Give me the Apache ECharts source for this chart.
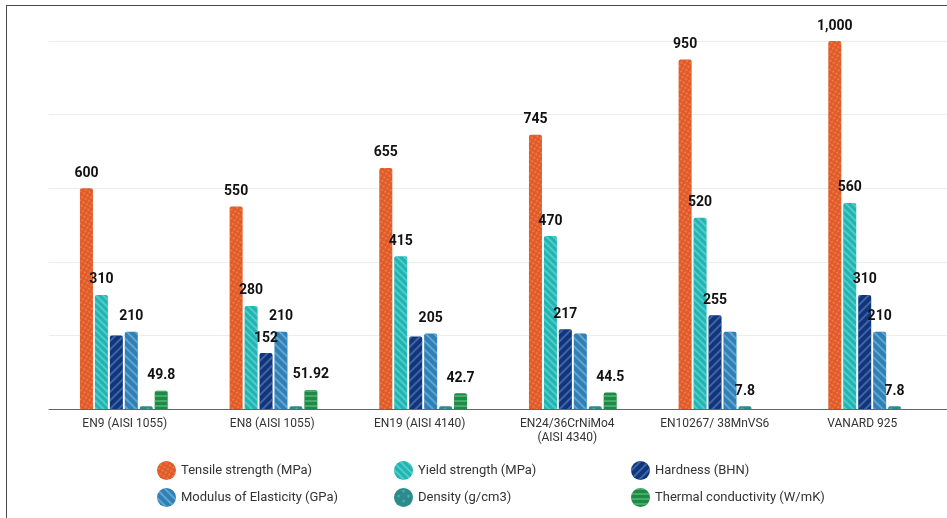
<!DOCTYPE html>
<html>
<head>
<meta charset="utf-8">
<script src="https://cdn.jsdelivr.net/npm/echarts@6/dist/echarts.min.js"></script>
<style>
  html, body { margin: 0; padding: 0; background: #fff; }
  #chart { position: absolute; left: 0; top: 0; width: 947px; height: 518px; }
  #frame { position: absolute; left: 6px; top: 5px; width: 960px; height: 530px;
           border-left: 1.5px solid #4a4a4a; border-top: 1.5px solid #4a4a4a; pointer-events: none; }
</style>
</head>
<body>
<div id="chart"></div>
<div id="frame"></div>
<script>
const categories = [
  "EN9 (AISI 1055)",
  "EN8 (AISI 1055)",
  "EN19 (AISI 4140)",
  "EN24/36CrNiMo4\n(AISI 4340)",
  "EN10267/ 38MnVS6",
  "VANARD 925",
]

const tensile = [600, 550, 655, 745, 950, 1000]
const yieldStrength = [310, 280, 415, 470, 520, 560]
const hardness = [200, 152, 197, 217, 255, 310]
const modulus = [210, 210, 205, 205, 210, 210]
const density = [7.8, 7.8, 7.8, 7.8, 7.8, 7.8]
const thermal = [49.8, 51.92, 42.7, 44.5, null, null]

// which values carry a printed label in the original
const tensileLabels = [true, true, true, true, true, true]
const yieldLabels = [true, true, true, true, true, true]
const hardnessLabels = [false, true, false, true, true, true]
const modulusLabels = [true, true, true, false, false, true]
const densityLabels = [false, false, false, false, true, true]
const thermalLabels = [true, true, true, true, true, true]

const yTicks = [0, 200, 400, 600, 800, 1000]

const seriesDefs = [
  {
    name: "Tensile strength (MPa)", data: tensile, labels: tensileLabels, color: "#e05a28",
    decal: { symbol: "circle", symbolSize: 0.7, color: "rgba(255,170,120,0.55)", dashArrayX: [[3, 1]], dashArrayY: [3, 1] },
  },
  {
    name: "Yield strength (MPa)", data: yieldStrength, labels: yieldLabels, color: "#20b4b2",
    decal: { symbol: "rect", symbolSize: 1, color: "rgba(140,230,225,0.45)", dashArrayX: [1, 0], dashArrayY: [2, 3], rotation: Math.PI / 4 },
  },
  {
    name: "Hardness (BHN)", data: hardness, labels: hardnessLabels, color: "#12357a",
    decal: { symbol: "rect", symbolSize: 1, color: "rgba(90,130,200,0.6)", dashArrayX: [1, 0], dashArrayY: [2, 4], rotation: -Math.PI / 4 },
  },
  {
    name: "Modulus of Elasticity (GPa)", data: modulus, labels: modulusLabels, color: "#2f80b6",
    decal: { symbol: "rect", symbolSize: 1, color: "rgba(150,200,230,0.5)", dashArrayX: [1, 0], dashArrayY: [2, 4], rotation: Math.PI / 4 },
  },
  {
    name: "Density (g/cm3)", data: density, labels: densityLabels, color: "#2b8a8c",
    decal: { symbol: "triangle", symbolSize: 0.8, color: "rgba(150,220,215,0.5)", dashArrayX: [[4, 3]], dashArrayY: [4, 3] },
  },
  {
    name: "Thermal conductivity (W/mK)", data: thermal, labels: thermalLabels, color: "#1d8a45",
    decal: { symbol: "rect", symbolSize: 1, color: "rgba(120,200,150,0.5)", dashArrayX: [1, 0], dashArrayY: [2, 3], rotation: 0 },
  },
]

const chart = echarts.init(document.getElementById("chart"), null, { renderer: "canvas" })

const series = seriesDefs.map((s) => ({
  name: s.name,
  type: "bar",
  xAxisIndex: 0,
  yAxisIndex: 0,
  barWidth: 13,
  barGap: "15%",
  itemStyle: { color: s.color, borderRadius: [2, 2, 0, 0], decal: s.decal },
  label: {
    position: "top",
    distance: 8,
    color: "#111",
    fontFamily: "Roboto",
    fontWeight: "bold",
    fontSize: 14,
    formatter: (p) => p.value.toLocaleString("en-US"),
  },
  data: s.data.map((v, i) => ({ value: v, label: { show: s.labels[i] && v != null } })),
}))

const legendBase = {
  orient: "vertical",
  icon: "circle",
  itemWidth: 19,
  itemHeight: 19,
  itemGap: 8,
  top: 456,
  textStyle: { color: "#333", fontSize: 13, fontFamily: "Roboto" },
}

const option = {
  animation: false,
  aria: { enabled: true, decal: { show: true } },
  legend: [
    { ...legendBase, left: 152, data: [seriesDefs[0].name, seriesDefs[3].name] },
    { ...legendBase, left: 389, data: [seriesDefs[1].name, seriesDefs[4].name] },
    { ...legendBase, left: 626, data: [seriesDefs[2].name, seriesDefs[5].name] },
  ],
  grid: [
    // bars
    { left: 49, right: -6, top: 41, bottom: 109, containLabel: false },
    // category labels sit on a slightly narrower band in the original
    { left: 51, right: 11, top: 41, bottom: 109, containLabel: false },
  ],
  xAxis: [
    {
      type: "category",
      gridIndex: 0,
      data: categories,
      axisLine: { lineStyle: { color: "#666", width: 1 } },
      axisTick: { show: false },
      axisLabel: { show: false },
    },
    {
      type: "category",
      gridIndex: 1,
      data: categories,
      axisLine: { show: false },
      axisTick: { show: false },
      axisLabel: { color: "#333", fontSize: 12, fontFamily: "Roboto", margin: 8, lineHeight: 14, interval: 0 },
    },
  ],
  yAxis: [
    {
      type: "value",
      gridIndex: 0,
      min: yTicks[0],
      max: yTicks[yTicks.length - 1],
      interval: yTicks[1] - yTicks[0],
      axisLabel: { show: false },
      axisLine: { show: false },
      axisTick: { show: false },
      splitLine: { lineStyle: { color: "#ececec", width: 1 } },
    },
    {
      type: "value",
      gridIndex: 1,
      min: yTicks[0],
      max: yTicks[yTicks.length - 1],
      show: false,
    },
  ],
  series: series,
}

chart.setOption(option)
</script>
</body>
</html>
